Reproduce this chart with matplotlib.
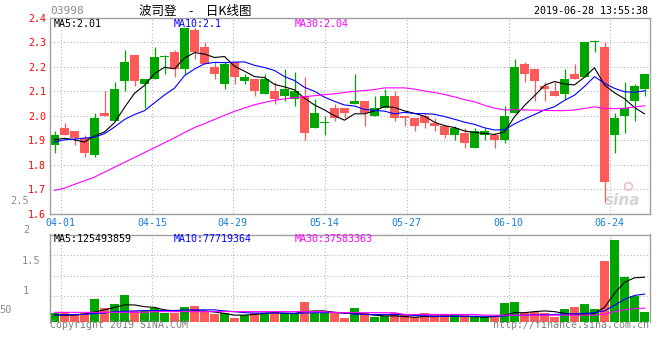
import numpy as np
import matplotlib
matplotlib.use('Agg')
import matplotlib.pyplot as plt

W, H = 660, 360

dates = ['03-29', '04-01', '04-02', '04-03', '04-04', '04-08', '04-09', '04-10', '04-11', '04-12',
         '04-15', '04-16', '04-17', '04-18', '04-23', '04-24', '04-25', '04-26', '04-29', '04-30',
         '05-02', '05-03', '05-06', '05-07', '05-08', '05-09', '05-10', '05-14', '05-15', '05-16',
         '05-17', '05-20', '05-21', '05-22', '05-23', '05-24', '05-27', '05-28', '05-29', '05-30',
         '05-31', '06-03', '06-04', '06-05', '06-06', '06-10', '06-11', '06-12', '06-13', '06-14',
         '06-17', '06-18', '06-19', '06-20', '06-21', '06-24', '06-25', '06-26', '06-27', '06-28']

opens = [1.88, 1.95, 1.94, 1.91, 1.84, 2.01, 1.98, 2.14, 2.25, 2.13,
         2.15, 2.24, 2.26, 2.19, 2.35, 2.28, 2.20, 2.13, 2.22, 2.14,
         2.15, 2.09, 2.10, 2.08, 2.07, 2.08, 1.95, 1.97, 2.03, 2.03,
         2.05, 2.06, 2.00, 2.03, 2.08, 2.00, 1.99, 2.00, 1.97, 1.96,
         1.92, 1.93, 1.87, 1.92, 1.92, 1.90, 2.01, 2.21, 2.19, 2.12,
         2.10, 2.09, 2.17, 2.16, 2.30, 2.28, 1.92, 2.00, 2.06, 2.11]
highs = [1.94, 1.97, 1.94, 1.92, 2.01, 2.10, 2.14, 2.27, 2.25, 2.15,
         2.28, 2.25, 2.27, 2.36, 2.36, 2.30, 2.22, 2.22, 2.22, 2.17,
         2.15, 2.17, 2.14, 2.19, 2.18, 2.16, 2.07, 2.00, 2.05, 2.03,
         2.17, 2.06, 2.08, 2.11, 2.10, 2.00, 1.99, 2.01, 1.99, 1.96,
         1.96, 1.95, 1.95, 1.95, 1.93, 2.04, 2.23, 2.22, 2.19, 2.14,
         2.14, 2.19, 2.21, 2.30, 2.31, 2.30, 2.01, 2.14, 2.13, 2.17]
lows = [1.85, 1.92, 1.88, 1.83, 1.83, 2.00, 1.98, 2.10, 2.12, 2.03,
        2.15, 2.17, 2.16, 2.17, 2.23, 2.21, 2.15, 2.11, 2.13, 2.13,
        2.08, 2.09, 2.05, 2.06, 2.04, 1.90, 1.95, 1.92, 1.98, 1.99,
        2.05, 1.96, 2.00, 2.03, 1.98, 1.96, 1.94, 1.95, 1.94, 1.91,
        1.90, 1.87, 1.87, 1.90, 1.87, 1.89, 2.01, 2.14, 2.06, 2.06,
        2.08, 2.07, 2.15, 2.16, 2.26, 1.65, 1.85, 1.93, 1.98, 2.08]
closes = [1.92, 1.92, 1.91, 1.85, 1.99, 2.00, 2.11, 2.22, 2.14, 2.15,
          2.24, 2.24, 2.19, 2.36, 2.26, 2.21, 2.17, 2.21, 2.16, 2.16,
          2.10, 2.15, 2.07, 2.11, 2.10, 1.93, 2.01, 1.97, 1.99, 2.01,
          2.06, 2.01, 2.03, 2.08, 1.99, 1.99, 1.96, 1.97, 1.96, 1.92,
          1.95, 1.89, 1.94, 1.94, 1.90, 2.00, 2.20, 2.17, 2.14, 2.11,
          2.08, 2.15, 2.15, 2.30, 2.30, 1.73, 1.99, 2.03, 2.12, 2.17]

ma5 = [1.902, 1.908, 1.902, 1.893, 1.918, 1.934, 1.972, 2.034, 2.092, 2.124,
       2.172, 2.198, 2.192, 2.236, 2.258, 2.252, 2.238, 2.242, 2.202, 2.182,
       2.160, 2.156, 2.128, 2.118, 2.106, 2.072, 2.044, 2.024, 2.000, 1.982,
       2.008, 2.008, 2.020, 2.038, 2.034, 2.020, 2.010, 1.998, 1.974, 1.960,
       1.952, 1.938, 1.932, 1.928, 1.924, 1.934, 1.996, 2.042, 2.082, 2.124,
       2.140, 2.130, 2.126, 2.158, 2.196, 2.126, 2.094, 2.070, 2.034, 2.008]
ma10 = [1.893, 1.902, 1.905, 1.909, 1.913, 1.927, 1.954, 1.985, 2.005, 2.021,
        2.053, 2.085, 2.113, 2.164, 2.191, 2.212, 2.218, 2.217, 2.219, 2.220,
        2.206, 2.197, 2.185, 2.160, 2.144, 2.116, 2.100, 2.076, 2.059, 2.044,
        2.040, 2.026, 2.022, 2.019, 2.008, 2.014, 2.009, 2.009, 2.006, 1.997,
        1.986, 1.974, 1.965, 1.951, 1.942, 1.943, 1.967, 1.987, 2.005, 2.024,
        2.037, 2.063, 2.084, 2.120, 2.160, 2.133, 2.112, 2.098, 2.096, 2.102]
ma30 = [1.695, 1.705, 1.720, 1.735, 1.750, 1.770, 1.790, 1.810, 1.830, 1.850,
        1.870, 1.890, 1.910, 1.932, 1.952, 1.968, 1.985, 2.002, 2.018, 2.032,
        2.045, 2.055, 2.063, 2.069, 2.074, 2.078, 2.082, 2.086, 2.090, 2.095,
        2.100, 2.103, 2.107, 2.114, 2.114, 2.114, 2.109, 2.101, 2.095, 2.087,
        2.077, 2.066, 2.057, 2.043, 2.031, 2.024, 2.025, 2.024, 2.023, 2.022,
        2.021, 2.021, 2.024, 2.030, 2.037, 2.030, 2.029, 2.031, 2.036, 2.041]

# volume in 1e8 shares
volumes = [0.23, 0.26, 0.18, 0.23, 0.64, 0.39, 0.50, 0.75, 0.30, 0.30,
           0.39, 0.25, 0.23, 0.40, 0.44, 0.30, 0.21, 0.25, 0.10, 0.18,
           0.23, 0.23, 0.30, 0.23, 0.23, 0.56, 0.25, 0.23, 0.23, 0.11,
           0.39, 0.23, 0.14, 0.16, 0.23, 0.18, 0.14, 0.23, 0.18, 0.18,
           0.20, 0.18, 0.16, 0.12, 0.16, 0.53, 0.56, 0.23, 0.26, 0.23,
           0.14, 0.35, 0.42, 0.50, 0.35, 1.71, 2.32, 1.26, 0.72, 0.265]
vol_ma5 = [0.18, 0.18, 0.18, 0.21, 0.27, 0.33, 0.40, 0.47, 0.47, 0.42,
           0.40, 0.33, 0.30, 0.28, 0.30, 0.30, 0.27, 0.23, 0.18, 0.18,
           0.20, 0.23, 0.25, 0.23, 0.23, 0.28, 0.30, 0.30, 0.26, 0.23,
           0.23, 0.21, 0.18, 0.16, 0.16, 0.14, 0.12, 0.14, 0.14, 0.15,
           0.15, 0.14, 0.14, 0.12, 0.14, 0.18, 0.25, 0.25, 0.28, 0.30,
           0.28, 0.23, 0.21, 0.21, 0.23, 0.40, 0.80, 1.11, 1.24, 1.255]
vol_ma10 = [0.19, 0.19, 0.20, 0.20, 0.23, 0.24, 0.28, 0.29, 0.30, 0.31,
            0.31, 0.31, 0.31, 0.33, 0.33, 0.33, 0.33, 0.30, 0.28, 0.25,
            0.24, 0.24, 0.24, 0.24, 0.23, 0.24, 0.25, 0.25, 0.26, 0.25,
            0.21, 0.20, 0.20, 0.20, 0.20, 0.19, 0.17, 0.16, 0.15, 0.15,
            0.15, 0.15, 0.15, 0.15, 0.15, 0.16, 0.18, 0.18, 0.19, 0.19,
            0.20, 0.21, 0.22, 0.23, 0.25, 0.30, 0.46, 0.63, 0.74, 0.777]
vol_ma30 = [0.26, 0.26, 0.26, 0.26, 0.26, 0.26, 0.26, 0.26, 0.26, 0.26,
            0.28, 0.28, 0.28, 0.28, 0.28, 0.28, 0.28, 0.28, 0.28, 0.28,
            0.28, 0.28, 0.28, 0.28, 0.28, 0.28, 0.28, 0.28, 0.25, 0.25,
            0.25, 0.25, 0.25, 0.25, 0.25, 0.20, 0.20, 0.20, 0.20, 0.20,
            0.20, 0.20, 0.20, 0.18, 0.18, 0.18, 0.18, 0.18, 0.18, 0.18,
            0.18, 0.18, 0.18, 0.18, 0.18, 0.21, 0.28, 0.33, 0.37, 0.376]

tick_labels = ['04-01', '04-15', '04-29', '05-14', '05-27', '06-10', '06-24']
tick_pos = [0.6, 9.75, 17.8, 27.0, 35.2, 45.4, 55.5]
price_ticks = [1.6, 1.7, 1.8, 1.9, 2.0, 2.1, 2.2, 2.3, 2.4]
vol_grid = [0.73, 1.30, 1.89]

GREEN = '#00a600'
RED = '#ff5a5a'
BLUE = '#0000ff'
MAGENTA = '#ff00ff'
GRID = '#b4b4b4'
BORDER = '#a0a0a0'
MONO = 'DejaVu Sans Mono'
FS = 7.2


def box(left, top, right, bottom):
    return [left / W, 1 - bottom / H, (right - left) / W, (bottom - top) / H]


def ftext(x, y, s, **kw):
    kw.setdefault('family', MONO)
    kw.setdefault('size', FS)
    kw.setdefault('va', 'center')
    fig.text(x / W, 1 - y / H, s, **kw)


fig = plt.figure(figsize=(W / 100, H / 100), dpi=100)
ax = fig.add_axes(box(50, 17.8, 649.5, 213.8))
axv = fig.add_axes(box(50, 234.5, 649.5, 321.5))

x = np.arange(len(dates))
o = np.array(opens)
c = np.array(closes)
colors = np.where(c >= o, GREEN, RED)

# candles
ax.vlines(x, lows, highs, colors=colors, lw=0.9, zorder=2)
body_h = np.maximum(np.abs(c - o), 0.004)
ax.bar(x, body_h, bottom=np.minimum(o, c), width=0.88, color=colors, linewidth=0, zorder=2)
ax.plot(x, ma5, color='black', lw=0.8, zorder=3)
ax.plot(x, ma10, color=BLUE, lw=0.8, zorder=3)
ax.plot(x, ma30, color=MAGENTA, lw=0.8, zorder=3)

ax.set_xlim(-0.45, 59.5)
ax.set_ylim(1.6, 2.4)
ax.set_yticks(price_ticks)
ax.set_yticklabels(['%.1f' % v for v in price_ticks], family=MONO, size=FS, color='red')
ax.set_xticks(tick_pos)
ax.set_xticklabels(tick_labels, family=MONO, size=FS, color='#1a7fd4')
ax.tick_params(length=0, pad=3)

# volume
axv.bar(x, volumes, width=0.9, color=colors, linewidth=0, zorder=2)
axv.plot(x, vol_ma5, color='black', lw=0.8, zorder=3)
axv.plot(x, vol_ma10, color=BLUE, lw=0.8, zorder=3)
axv.plot(x, vol_ma30, color=MAGENTA, lw=0.8, zorder=3)
axv.set_xlim(-0.45, 59.5)
axv.set_ylim(0, 2.467)
axv.set_yticks(vol_grid)
axv.set_xticks(tick_pos)
axv.set_xticklabels([])
axv.set_yticklabels([])
axv.tick_params(length=0)
axv.spines['bottom'].set_visible(False)

for a in (ax, axv):
    a.grid(True, color=GRID, ls=(0, (1, 2)), lw=0.8, zorder=0)
    a.set_axisbelow(True)
    for sp in a.spines.values():
        sp.set_color(BORDER)
        sp.set_linewidth(1.0)

# watermark
ax.text(0.985, 0.07, 'sina', transform=ax.transAxes, ha='right', va='center',
        size=11, style='italic', weight='bold', color='#d4d4d4', zorder=1)
ax.scatter([0.965], [0.14], transform=ax.transAxes, s=30, facecolors='none',
           edgecolors='#e8c0c0', linewidths=1.2, zorder=1)

# header texts
ftext(50, 11.5, '03998', color='#8c8c8c', size=8)
ftext(195, 11, '波司登\u3000-\u3000日K线图', family=['Noto Sans CJK SC', 'DejaVu Sans'], size=9, ha='center')
ftext(648, 11.5, '2019-06-28 13:55:38', ha='right')

ftext(54, 24, 'MA5:2.01', color='black')
ftext(174, 24, 'MA10:2.1', color=BLUE)
ftext(295, 24, 'MA30:2.04', color=MAGENTA)

ftext(54, 238.5, 'MA5:125493859', color='black')
ftext(174, 238.5, 'MA10:77719364', color=BLUE)
ftext(295, 238.5, 'MA30:37583363', color=MAGENTA)

# volume scale labels
for lx, ly, s in [(10, 200.5, '2.5'), (23, 230.5, '2'), (22, 260.5, '1.5'), (23, 290.5, '1'), (-1, 310, '50')]:
    ftext(lx, ly, s, color='#8c8c8c', size=7.5)

ftext(50, 324.5, 'Copyright 2019 SINA.COM', color='#808080')
ftext(649, 324.5, 'http://finance.sina.com.cn', color='#808080', ha='right')

fig.savefig('out.png', dpi=100)
